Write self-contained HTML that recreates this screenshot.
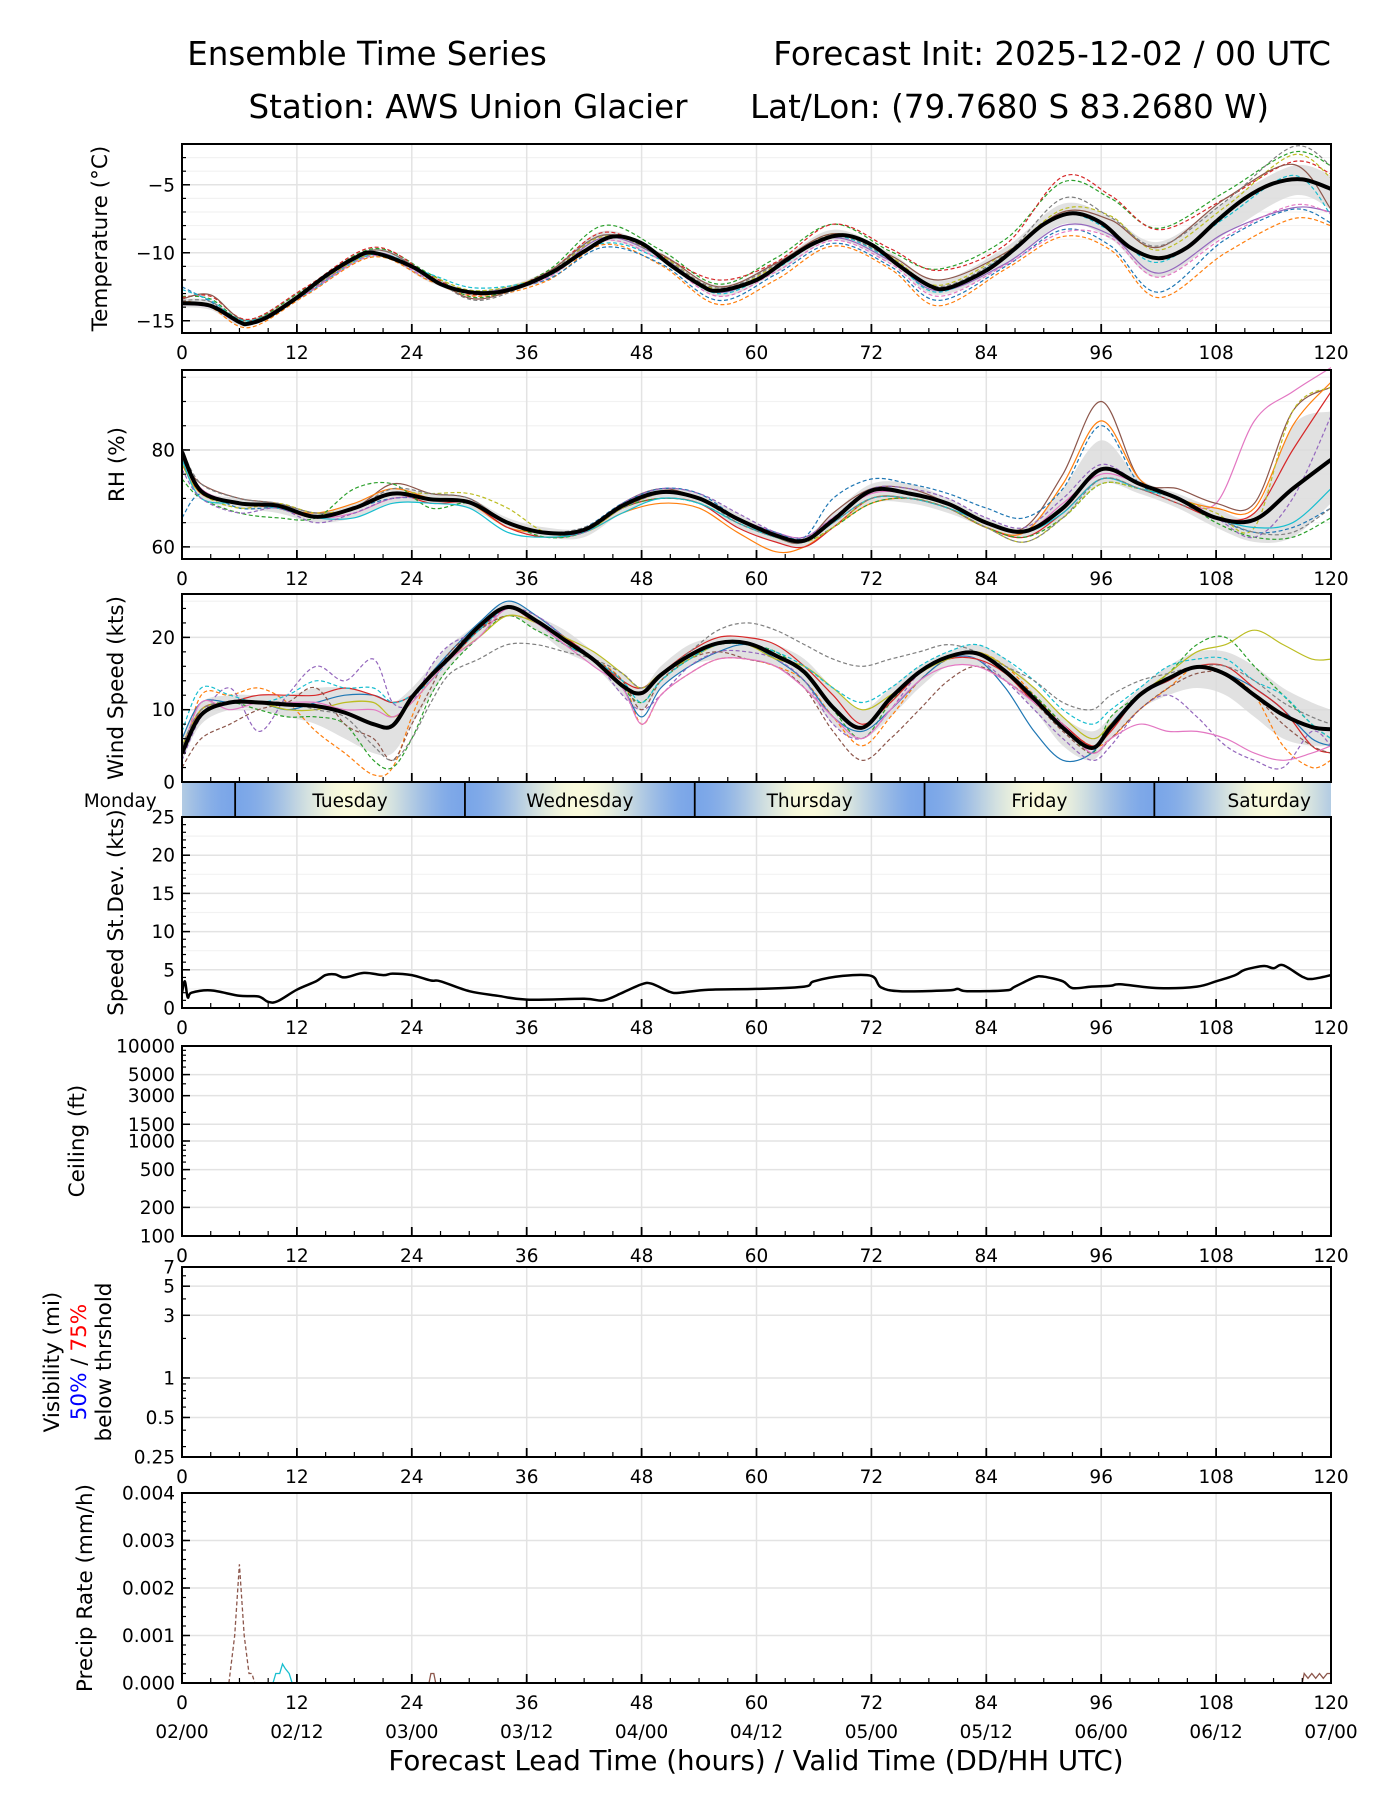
<!DOCTYPE html>
<html><head><meta charset="utf-8">
<style>
html,body{margin:0;padding:0;background:#fff;}
svg{display:block;font-family:"DejaVu Sans","Liberation Sans",sans-serif;}
</style></head>
<body>
<svg id="chart" width="1400" height="1800" viewBox="0 0 1400 1800" xmlns="http://www.w3.org/2000/svg">
<defs>
<linearGradient id="dayGrad" x1="182" x2="1331" y1="0" y2="0" gradientUnits="userSpaceOnUse"></linearGradient>
<clipPath id="clipAll"><rect x="182" y="0" width="1149" height="1800"/></clipPath>
</defs>
<g>
<text x="367" y="65" font-size="32.5" text-anchor="middle">Ensemble Time Series</text>
<text x="1331" y="65" font-size="32.5" text-anchor="end">Forecast Init: 2025-12-02 / 00 UTC</text>
<text x="468" y="118" font-size="32.5" text-anchor="middle">Station: AWS Union Glacier</text>
<text x="1269" y="118" font-size="32.5" text-anchor="end">Lat/Lon: (79.7680 S 83.2680 W)</text>
</g>
<g id="layer"></g>
<text x="756" y="1770" font-size="27.7" text-anchor="middle">Forecast Lead Time (hours) / Valid Time (DD/HH UTC)</text>
</svg>
<script>
// ---------------- DATA ----------------
const tempMeanHours = [0,3,6,7,9,12,15,18,20,24,27,30,33,36,39,42,45,48,51,54,56,60,63,66,69,72,75,78,80,84,87,90,93,96,99,102,105,108,111,114,117,120];
const tempMean = [-13.7,-13.9,-15.1,-15.2,-14.7,-13.3,-11.7,-10.4,-10.0,-11.0,-12.3,-12.9,-12.9,-12.3,-11.3,-9.9,-8.8,-9.3,-10.9,-12.3,-12.8,-12.0,-10.6,-9.3,-8.7,-9.4,-11.0,-12.4,-12.6,-11.3,-9.7,-7.9,-7.1,-7.8,-9.6,-10.4,-9.6,-7.7,-6.0,-4.9,-4.6,-5.3];
const tempHours = [0,3,7,13,20,26,31,38,44,50,56,62,68,74,79,86,92,97,102,109,116,120];
const tempLo = [-14,-14.2,-15.4,-13.1,-10.3,-12.2,-13.2,-12,-9.2,-10.6,-13.2,-11.5,-9.1,-10.8,-13.1,-10.9,-7.9,-9,-11.8,-8.6,-5.8,-6.8];
const tempHi = [-13.4,-13.5,-14.9,-12.5,-9.7,-11.6,-12.8,-11.4,-8.4,-10.0,-12.4,-10.7,-8.3,-10,-12.0,-9.6,-6.4,-7.4,-9.2,-6.2,-3.6,-4.3];
const tempM1 = [-13.5,-14,-15.5,-13.1,-10.3,-12.1,-13.2,-12.1,-9.4,-10.9,-13.8,-12.0,-9.5,-11.2,-13.9,-11.2,-8.8,-9.8,-13.3,-10,-7.5,-8];
const tempM2 = [-13.2,-13.4,-15.0,-12.6,-9.7,-11.6,-13.3,-11.4,-8.0,-9.8,-12.3,-10.4,-7.9,-9.9,-11.2,-9.0,-4.8,-6.0,-8.2,-5.5,-2.6,-3.6];
const tempM3 = [-12.5,-13.6,-15.3,-13.0,-10.2,-12.0,-12.8,-12,-9.6,-10.8,-13.5,-11.6,-9.3,-11.0,-13.5,-11.0,-8.3,-9.5,-12.9,-9,-6.8,-7.8];
const tempM4 = [-13.3,-13.2,-14.9,-12.5,-9.6,-11.7,-13.1,-11.5,-8.5,-10.2,-12,-10.7,-7.9,-9.7,-11.3,-9.4,-4.4,-5.8,-8.3,-6,-3.3,-4.2];
const tempM5 = [-13.8,-14.0,-15.2,-13.0,-10.0,-11.9,-12.9,-11.7,-8.9,-10.3,-12.9,-11.1,-8.9,-10.6,-12.8,-10.8,-8.0,-8.7,-11.5,-8.5,-6.7,-7.0];
const tempM6 = [-13.7,-13.8,-15.1,-12.8,-10.1,-11.7,-12.8,-11.6,-8.8,-10.2,-12.7,-11.0,-8.6,-10.3,-12.4,-10.0,-6.8,-7.3,-9.8,-6.6,-2.8,-4.5];
const tempM7 = [-13.4,-13.1,-15.0,-12.8,-9.8,-11.8,-13.4,-11.5,-8.7,-10.1,-12.5,-10.8,-8.6,-10.2,-12.0,-10.0,-7.0,-7.6,-9.6,-6,-3.5,-6.8];
const tempM8 = [-12.7,-13.5,-15.0,-13.0,-10.1,-11.6,-12.6,-11.8,-9.3,-10.5,-13.0,-11.2,-8.8,-10.5,-12.9,-10.2,-7.2,-8.4,-10.7,-7.4,-4.3,-7.2];
const tempM9 = [-13.6,-13.9,-15.2,-13.0,-10.2,-12.0,-13.0,-11.9,-9.1,-10.5,-13.2,-11.4,-9.1,-10.8,-13.2,-10.9,-8.5,-8.9,-11.8,-8.8,-6.5,-7.1];
const tempM10 = [-13.5,-13.6,-15.1,-12.9,-9.8,-11.8,-13.5,-11.6,-8.7,-10.3,-12.6,-10.9,-8.7,-10.4,-12.5,-10.1,-6.0,-7.4,-9.5,-6.2,-2.2,-3.6];

const rhHours = [0,2,6,10,14,18,22,26,30,34,38,42,46,50,54,58,62,65,68,72,76,80,84,88,92,96,100,104,108,112,116,120];
const rhMean = [79.6,71.5,69,68.5,66.2,68,71,69.8,69.2,65,62.9,63.5,68.5,71.3,70,65.8,62.4,61.3,65.5,71.6,71,68.9,65,63.2,68,76,73,70,66,65.6,72,78];
const rhLo = [77,70,68,67,65,66,69,69,68,64,62,62,67,70,69,64,61,60,64,69,69,67,64,62,66,73,71,68,64,61,62,69];
const rhHi = [81,72,70,69,67,69,72,71,70,66,64,64,69,72,71,67,63,62,67,73,73,70,66,64,72,82,74,71,68,67,85,88];
const rhM1 = [80,72,69,68,66,67,70,70,69,65,63,63,68,71,70,66,63,62,66,71,71,69,65,63,69,75,73,70,69,86,92,97];
const rhM2 = [78,73,70,69,67,68,73,71,70,65,63,63,69,72,70,66,62,61,67,72,72,69,65,64,75,90,74,72,69,69,88,93];
const rhM3 = [77,71,69,68,67,69,72,70,69,64,63,63,67,69,68,63,59,60,64,69,70,68,64,63,73,86,74,70,68,68,85,94];
const rhM4 = [79,71,69,68,66,68,71,69,69,64,62,63,68,70,69,64,61,60,64,70,70,68,64,62,67,74,72,69,66,67,80,92];
const rhM5 = [66,71,68,68,66,68,70,70,69,65,63,64,69,72,71,66,63,62,70,74,73,71,68,66,72,85,73,70,66,63,64,68];
const rhM6 = [74,70,67,66,66,72,73,68,69,65,62,63,68,70,69,65,62,61,64,69,70,68,64,62,66,73,72,70,65,62,62,66];
const rhM7 = [77,71,68,69,67,68,71,71,71,68,63,63,68,71,70,66,62,61,64,70,70,68,64,61,66,73,72,70,67,64,88,93];
const rhM8 = [78,70,69,68,66,66,69,69,68,63,62,63,67,70,69,65,62,61,65,70,70,68,65,63,67,74,72,70,66,64,65,72];
const rhM9 = [76,70,67,68,65,67,70,70,69,65,63,63,69,72,71,67,63,62,66,72,72,70,66,64,70,77,73,70,66,62,70,87];
const rhM10 = [80,73,70,69,67,68,72,71,70,65,63,64,68,71,70,65,62,61,65,70,70,68,64,61,66,74,72,69,66,63,63,68];

const windHours = [0,2,5,8,11,14,17,20,22,24,26,28,31,34,37,40,43,46,48,50,53,56,59,62,65,68,71,74,77,80,83,86,89,92,95,97,100,103,106,109,112,115,118,120];
const windMean = [4,9.3,11,11,10.7,10.5,9.6,8.0,7.8,11.7,14.7,17.3,21.5,24.2,22.3,19.6,16.9,13.3,12.3,14.8,17.5,19.2,19.2,17.5,15.2,10.3,7.5,11.6,15.2,17.3,17.8,15.3,11.5,7.5,4.7,7.6,12,14.3,15.9,14.9,12,9.3,7.6,7.3];
const windLo = [3,8,10,10,9,8,6,4,4,8,12,16,20,23,21,18,16,12,10,13,16,17,17,16,13,8,6,9,13,16,16,14,10,5,3,6,10,12,13,12,9,6,5,5];
const windHi = [6,11,12,12,12,13,13,12,11,13,16,19,22,25,23,21,18,15,13,16,19,20,20,19,17,13,10,13,16,18,19,17,13,9,7,9,13,16,18,18,16,13,11,10];
const windM1 = [3,12,12,13,11,7,4,1,2,9,15,17,21,23,22,19,17,14,8,12,15,17,17,16,14,9,5,9,14,17,18,16,12,8,5,6,10,13,16,15,12,5,2,3];
const windM2 = [5,10,11,10,9,9,8,3,2,6,12,16,20,23,21,19,17,13,11,14,17,19,19,18,15,10,6,11,15,17,18,15,12,8,4,9,12,15,19,20,16,12,8,6];
const windM3 = [6,11,11,11,10,11,12,12,11,12,15,18,22,25,23,20,17,13,9,13,16,18,19,17,14,9,7,10,14,17,17,13,7,3,4,8,12,14,16,15,13,10,6,5];
const windM4 = [3,9,13,7,12,16,14,17,11,11,16,19,21,24,23,20,17,12,10,12,16,18,18,17,14,8,6,10,15,17,17,14,10,6,3,5,10,12,9,5,3,2,7,5];
const windM5 = [4,10,11,12,12,12,13,12,11,12,15,17,21,24,22,20,17,14,13,15,18,20,20,19,16,12,8,11,15,17,17,15,11,8,5,7,12,14,16,16,13,10,5,4];
const windM6 = [2,6,8,10,11,13,8,6,3,8,13,18,21,23,22,19,17,14,10,14,17,18,17,16,13,7,3,6,10,14,16,14,11,7,4,6,10,13,15,15,12,8,5,4];
const windM7 = [5,10,11,11,10,10,11,11,9,11,14,17,20,23,22,20,18,15,13,15,17,19,19,17,16,13,10,12,15,17,18,16,13,9,6,8,12,15,18,19,21,19,17,17];
const windM8 = [7,13,12,11,12,14,13,13,11,12,14,17,21,24,22,19,17,14,11,14,17,19,19,18,16,13,11,13,16,18,19,17,14,10,8,10,13,16,17,17,14,12,8,6];
const windM9 = [4,11,10,11,11,11,10,10,9,11,14,17,20,24,22,19,16,13,8,12,15,17,17,16,13,9,6,10,14,16,16,14,11,8,4,6,8,7,7,6,4,3,4,5];
const windM10 = [5,10,11,11,11,10,9,5,3,6,11,15,17,19,19,18,17,15,13,15,18,21,22,21,19,17,16,17,18,19,18,16,14,11,10,12,14,15,16,16,14,11,9,8];

const sdHours = [0,0.3,0.6,1,3,6,8,9,10,12,14,15,16,17,19,21,22,24,26,27,30,33,36,42,44,46,48,49,51,52,55,60,65,66,69,72,73,75,80,81,82,86,87,89,90,92,93,95,97,98,102,106,108,110,111,113,114,115,117,118,120];
const sdValues = [2.0,3.5,1.4,2.0,2.3,1.6,1.5,0.8,0.9,2.4,3.5,4.3,4.4,4.0,4.6,4.3,4.5,4.3,3.6,3.5,2.2,1.6,1.1,1.2,1.0,2.0,3.1,3.2,2.1,2.0,2.4,2.5,2.8,3.5,4.2,4.2,2.7,2.2,2.3,2.5,2.2,2.3,2.8,4.0,4.1,3.5,2.6,2.8,2.9,3.1,2.6,2.8,3.5,4.3,5.0,5.5,5.2,5.6,4.1,3.8,4.3];

const precipAHours = [4.9,5.5,6,6.5,7,7.3,7.6];
const precipA = [0,0.001,0.0025,0.001,0.0002,0.0002,0];
const precipBHours = [9.5,9.8,10.2,10.5,10.8,11.2,11.5];
const precipB = [0,0.0002,0.0002,0.0004,0.0003,0.0002,0];
const precipCHours = [25.8,26,26.3,26.5];
const precipC = [0,0.0002,0.0002,0];
const precipDHours = [117,117.2,117.6,118,118.4,118.8,119.2,119.6,120];
const precipD = [0,0.0002,0.0001,0.0002,0.0001,0.0002,0.0001,0.0002,0.0002];

const xTicks = [0,12,24,36,48,60,72,84,96,108,120];
const dateLabels = ["02/00","02/12","03/00","03/12","04/00","04/12","05/00","05/12","06/00","06/12","07/00"];
const dayNames = ["Monday","Tuesday","Wednesday","Thursday","Friday","Saturday"];
const dayBoundaryHours = [5.55,29.55,53.55,77.55,101.55];

// ---------------- RENDERING ----------------
const NS = "http://www.w3.org/2000/svg";
const layer = document.getElementById('layer');
const X0 = 182, X1 = 1331;
function xs(h){ return X0 + h*(X1-X0)/120; }
function mk(tag, attrs, parent){
  const e = document.createElementNS(NS, tag);
  for (const k in attrs) e.setAttribute(k, attrs[k]);
  (parent||layer).appendChild(e);
  return e;
}
function linScale(p){ return v => p.bottom - (v - p.min)/(p.max - p.min)*(p.bottom - p.top); }
function logScale(p){ return v => p.bottom - (Math.log10(v) - Math.log10(p.min))/(Math.log10(p.max)-Math.log10(p.min))*(p.bottom-p.top); }

function smoothPath(hs, vs, ys){
  const pts = hs.map((h,i)=>[xs(h), ys(vs[i])]);
  let d = "M"+pts[0][0].toFixed(1)+","+pts[0][1].toFixed(1);
  for (let i=0;i<pts.length-1;i++){
    const p0 = pts[i-1]||pts[i], p1=pts[i], p2=pts[i+1], p3=pts[i+2]||pts[i+1];
    const c1x=p1[0]+(p2[0]-p0[0])/6, c1y=p1[1]+(p2[1]-p0[1])/6;
    const c2x=p2[0]-(p3[0]-p1[0])/6, c2y=p2[1]-(p3[1]-p1[1])/6;
    d += " C"+c1x.toFixed(1)+","+c1y.toFixed(1)+" "+c2x.toFixed(1)+","+c2y.toFixed(1)+" "+p2[0].toFixed(1)+","+p2[1].toFixed(1);
  }
  return d;
}
function polyPath(hs, vs, ys){
  return hs.map((h,i)=>(i?"L":"M")+xs(h).toFixed(1)+","+ys(vs[i]).toFixed(1)).join(" ");
}

const panels = {
  temp:{top:144,bottom:333,min:-15.9,max:-2.0,type:'lin'},
  rh:{top:370,bottom:559,min:57.5,max:96.5,type:'lin'},
  wind:{top:594,bottom:782,min:0,max:26,type:'lin'},
  sd:{top:817,bottom:1008,min:0,max:25,type:'lin'},
  ceil:{top:1046,bottom:1236,min:100,max:10000,type:'log'},
  vis:{top:1267,bottom:1457,min:0.25,max:7,type:'log'},
  precip:{top:1493,bottom:1683,min:0,max:0.004,type:'lin'}
};

function drawFrame(name, p, ys, major, gridMinor){
  const g = mk('g',{});
  
  
  (gridMinor||[]).forEach(v=>{
    const l = mk('line',{x1:X0,x2:X1,y1:ys(v),y2:ys(v),stroke:'#f2f2f2','stroke-width':1.2},g);
    
    
  });
  major.forEach(v=>{
    const l = mk('line',{x1:X0,x2:X1,y1:ys(v),y2:ys(v),stroke:'#e3e3e3','stroke-width':1.5},g);
    
    
  });
  xTicks.forEach(h=>{
    const l = mk('line',{x1:xs(h),x2:xs(h),y1:p.top,y2:p.bottom,stroke:'#e3e3e3','stroke-width':1.5},g);
    
    
  });
  return g;
}
function drawAxes(name, p, ys, major, minor, labels, ylabelX, ylabel, noXLabels){
  const g = mk('g',{});
  
  
  const r = mk('rect',{x:X0,y:p.top,width:X1-X0,height:p.bottom-p.top,fill:'none',stroke:'#000','stroke-width':2},g);
  
  
  minor.forEach(v=>{ const y=ys(v); if(y<p.top-0.5||y>p.bottom+0.5) return;
    mk('line',{x1:X0,x2:X0+4,y1:y,y2:y,stroke:'#000','stroke-width':1.2},g); });
  major.forEach((v,i)=>{ const y=ys(v);
    mk('line',{x1:X0,x2:X0+8,y1:y,y2:y,stroke:'#000','stroke-width':1.5},g);
    const t = mk('text',{x:X0-7,y:y+6.5,'font-size':18.5,'text-anchor':'end'},g);
    t.textContent = labels[i];
    
    
  });
  for(let h=0;h<=120;h+=3){
    const big = h%12===0;
    mk('line',{x1:xs(h),x2:xs(h),y1:p.bottom,y2:p.bottom-(big?9:5),stroke:'#000','stroke-width':big?1.8:1.2},g);
  }
  if(!noXLabels){
    xTicks.forEach(h=>{
      const t = mk('text',{x:xs(h),y:p.bottom+26,'font-size':18.5,'text-anchor':'middle'},g);
      t.textContent = String(h);
      
      
    });
  }
  if (ylabel){
    const cy = (p.top+p.bottom)/2;
    const t = mk('text',{x:ylabelX,y:cy,'font-size':21.5,'text-anchor':'middle',transform:'rotate(-90 '+ylabelX+' '+cy+')'},g);
    t.textContent = ylabel;
    
    
  }
}
const colors = ['#1f77b4','#ff7f0e','#2ca02c','#d62728','#9467bd','#8c564b','#e377c2','#7f7f7f','#bcbd22','#17becf'];
function drawEnsemble(name, hours, members, styles, lo, hi, meanH, mean, ys, p){
  const g = mk('g',{'clip-path':'url(#clipAll)'});
  
  
  const up = smoothPath(hours, hi, ys);
  const loRevH = hours.slice().reverse(), loRevV = lo.slice().reverse();
  const down = smoothPath(loRevH, loRevV, ys).replace(/^M/,'L');
  const band = mk('path',{d:up+" "+down+" Z",fill:'#d9d9d9','fill-opacity':0.8,stroke:'none'},g);
  
  
  members.forEach((m,i)=>{
    const st = styles[i];
    const path = mk('path',{d:smoothPath(hours, m, ys),fill:'none',stroke:colors[st[0]],'stroke-width':1.2,'stroke-dasharray':st[1]?'4,2.5':'none'},g);
    
    
  });
  const ml = mk('path',{d:smoothPath(meanH, mean, ys),fill:'none',stroke:'#000','stroke-width':4,'stroke-linejoin':'round'},g);
  
  
}

// Temperature
let p = panels.temp, ys = linScale(p);
let minorT=[]; for(let v=-15;v<=-3;v++) minorT.push(v);
drawFrame('temperature', p, ys, [-15,-10,-5], minorT);
drawEnsemble('temperature', tempHours, [tempM1,tempM2,tempM3,tempM4,tempM5,tempM6,tempM7,tempM8,tempM9,tempM10],
  [[1,1],[2,1],[0,1],[3,1],[4,0],[8,1],[5,0],[9,1],[6,1],[7,1]], tempLo, tempHi, tempMeanHours, tempMean, ys, p);
drawAxes('temperature', p, ys, [-15,-10,-5], minorT, ['\u221215','\u221210','\u22125'], 107, 'Temperature (\u00b0C)');

// RH
p = panels.rh; ys = linScale(p);
const rhMinor=[60,65,70,75,80,85,90,95];
drawFrame('rh', p, ys, [60,80], rhMinor);
drawEnsemble('rh', rhHours, [rhM1,rhM2,rhM3,rhM4,rhM5,rhM6,rhM7,rhM8,rhM9,rhM10],
  [[6,0],[5,0],[1,0],[3,0],[0,1],[2,1],[8,1],[9,0],[4,1],[7,1]], rhLo, rhHi, rhHours, rhMean, ys, p);
drawAxes('rh', p, ys, [60,80], rhMinor, ['60','80'], 124, 'RH (%)');

// Wind
p = panels.wind; ys = linScale(p);
let wMinor=[]; for(let v=0;v<=26;v+=2) wMinor.push(v);
drawFrame('wind', p, ys, [0,10,20], [5,15,25]);
drawEnsemble('wind', windHours, [windM1,windM2,windM3,windM4,windM5,windM6,windM7,windM8,windM9,windM10],
  [[1,1],[2,1],[0,0],[4,1],[3,0],[5,1],[8,0],[9,1],[6,0],[7,1]], windLo, windHi, windHours, windMean, ys, p);
drawAxes('wind', p, ys, [0,10,20], wMinor, ['0','10','20'], 123, 'Wind Speed (kts)', true);

// Day bar
(function(){
  const grad = document.getElementById('dayGrad');
  for(let h=0; h<=120; h+=1){
    const lst = ((h - 5.55)%24 + 24)%24;
    const f = (1 - Math.cos(lst/24*2*Math.PI))/2;
    const r = Math.round(122 + f*(250-122)), gg = Math.round(166 + f*(250-166)), b = Math.round(232 + f*(220-232));
    const s = document.createElementNS(NS,'stop');
    s.setAttribute('offset', (h/120).toFixed(4));
    s.setAttribute('stop-color', 'rgb('+r+','+gg+','+b+')');
    grad.appendChild(s);
  }
  const g = mk('g',{});
  
  
  mk('rect',{x:X0,y:783,width:X1-X0,height:34,fill:'url(#dayGrad)'},g);
  dayBoundaryHours.forEach(h=>{
    const l = mk('line',{x1:xs(h),x2:xs(h),y1:783,y2:817,stroke:'#000','stroke-width':1.8},g);
    
    
  });
  dayNames.forEach((d,i)=>{
    const h = dayBoundaryHours[0] - 12 + 24*i;
    const t = mk('text',{x:xs(h),y:807,'font-size':18.5,'text-anchor':'middle'},g);
    t.textContent = d;
    
    
  });
})();

// StDev
p = panels.sd; ys = linScale(p);
let sdMinor=[]; for(let v=0;v<=25;v++) sdMinor.push(v);
drawFrame('stdev', p, ys, [0,5,10,15,20,25], [2.5,7.5,12.5,17.5,22.5]);
{
  const l = mk('path',{d:smoothPath(sdHours, sdValues, ys),fill:'none',stroke:'#000','stroke-width':2.5,'stroke-linejoin':'round','clip-path':'url(#clipAll)'});
  
  
}
drawAxes('stdev', p, ys, [0,5,10,15,20,25], sdMinor, ['0','5','10','15','20','25'], 123, 'Speed St.Dev. (kts)');

// Ceiling
p = panels.ceil; ys = logScale(p);
const ceilTicks=[100,200,500,1000,1500,3000,5000,10000];
let ceilMinor=[]; [100,1000].forEach(b=>{for(let k=1;k<10;k++) ceilMinor.push(b*k);}); ceilMinor.push(10000);
drawFrame('ceiling', p, ys, ceilTicks, []);
drawAxes('ceiling', p, ys, ceilTicks, ceilMinor, ceilTicks.map(String), 84, 'Ceiling (ft)');

// Visibility
p = panels.vis; ys = logScale(p);
const visTicks=[0.25,0.5,1,3,5,7];
let visMinor=[0.3,0.4,0.5,0.6,0.7,0.8,0.9,1,2,3,4,5,6,7];
drawFrame('visibility', p, ys, visTicks, []);
drawAxes('visibility', p, ys, visTicks, visMinor, ['0.25','0.5','1','3','5','7'], 0, null);
{
  const cy = (p.top+p.bottom)/2;
  const g = mk('g',{});
  
  
  const t1 = mk('text',{x:59,y:cy,'font-size':21.5,'text-anchor':'middle',transform:'rotate(-90 59 '+cy+')'},g);
  t1.textContent = 'Visibility (mi)';
  const t2 = mk('text',{x:86,y:cy,'font-size':21.5,'text-anchor':'middle',transform:'rotate(-90 86 '+cy+')'},g);
  t2.innerHTML = '<tspan fill="#0000ff">50%</tspan> / <tspan fill="#ff0000">75%</tspan>';
  const t3 = mk('text',{x:111,y:cy,'font-size':21.5,'text-anchor':'middle',transform:'rotate(-90 111 '+cy+')'},g);
  t3.textContent = 'below thrshold';
}

// Precip
p = panels.precip; ys = linScale(p);
const prTicks=[0,0.001,0.002,0.003,0.004];
let prMinor=[]; for(let k=0;k<=20;k++) prMinor.push(k*0.0002);
drawFrame('precip', p, ys, prTicks, []);
[[precipAHours,precipA,5,1],[precipBHours,precipB,9,0],[precipCHours,precipC,5,0],[precipDHours,precipD,5,0]].forEach(s=>{
  const l = mk('path',{d:polyPath(s[0],s[1],ys),fill:'none',stroke:colors[s[2]],'stroke-width':1.3,'stroke-dasharray':s[3]?'4,2.5':'none','clip-path':'url(#clipAll)'});
  
  
});
drawAxes('precip', p, ys, prTicks, prMinor, ['0.000','0.001','0.002','0.003','0.004'], 92, 'Precip Rate (mm/h)');
xTicks.forEach((h,i)=>{
  const t = mk('text',{x:xs(h),y:p.bottom+55,'font-size':18.5,'text-anchor':'middle'});
  t.textContent = dateLabels[i];
  
  
});
</script>
</body></html>
